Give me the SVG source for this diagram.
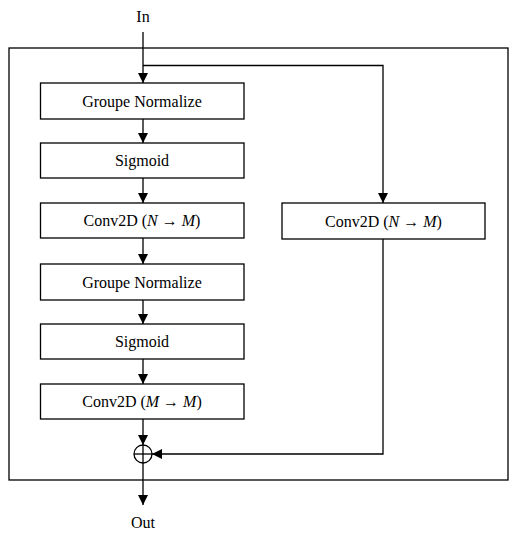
<svg xmlns="http://www.w3.org/2000/svg" width="523" height="537" viewBox="0 0 523 537">
<style>
.box{fill:#fff;stroke:#000;stroke-width:1.3}
text{font-family:'Liberation Serif','Times New Roman','DejaVu Serif',serif;font-size:16px;fill:#000;text-anchor:middle}
.m{font-style:italic}
.ln{fill:none;stroke:#000;stroke-width:1.3}
</style>
<defs>
<marker id="ah" markerWidth="10" markerHeight="10" viewBox="0 0 10 10" refX="10" refY="5" orient="auto" markerUnits="userSpaceOnUse">
<path d="M0,0 L10,5 L0,10 Z" fill="#000"/>
</marker>
</defs>
<rect id="frame" x="9" y="48" width="499" height="432" fill="none" stroke="#000" stroke-width="1.3"/>
<g id="connectors">
<line class="ln" x1="143" y1="32" x2="143" y2="83" marker-end="url(#ah)"/>
<polyline class="ln" points="143,65.5 383,65.5 383,203" marker-end="url(#ah)"/>
<line class="ln" x1="143" y1="119" x2="143" y2="143" marker-end="url(#ah)"/>
<line class="ln" x1="143" y1="178" x2="143" y2="203" marker-end="url(#ah)"/>
<line class="ln" x1="143" y1="238" x2="143" y2="264" marker-end="url(#ah)"/>
<line class="ln" x1="143" y1="300" x2="143" y2="324" marker-end="url(#ah)"/>
<line class="ln" x1="143" y1="359" x2="143" y2="384" marker-end="url(#ah)"/>
<line class="ln" x1="143" y1="419" x2="143" y2="445" marker-end="url(#ah)"/>
<polyline class="ln" points="383,239 383,454 152,454" marker-end="url(#ah)"/>
<line class="ln" x1="143" y1="463" x2="143" y2="505" marker-end="url(#ah)"/>
</g>
<text x="143" y="22">In</text>
<text x="143" y="528">Out</text>
<g id="gn1"><rect class="box" x="40.5" y="83" width="203.5" height="36"/><text x="142" y="106.5">Groupe Normalize</text></g>
<g id="sig1"><rect class="box" x="40.5" y="143" width="203.5" height="35"/><text x="142" y="166">Sigmoid</text></g>
<g id="conv1"><rect class="box" x="40.5" y="203" width="203.5" height="35"/><text x="142" y="226">Conv2D (<tspan class="m">N</tspan> → <tspan class="m">M</tspan>)</text></g>
<g id="gn2"><rect class="box" x="40.5" y="264" width="203.5" height="36"/><text x="142" y="287.5">Groupe Normalize</text></g>
<g id="sig2"><rect class="box" x="40.5" y="324" width="203.5" height="35"/><text x="142" y="347">Sigmoid</text></g>
<g id="conv3"><rect class="box" x="40.5" y="384" width="203.5" height="35"/><text x="142" y="407">Conv2D (<tspan class="m">M</tspan> → <tspan class="m">M</tspan>)</text></g>
<g id="conv2"><rect class="box" x="282" y="203" width="203" height="36"/><text x="383.5" y="226.5">Conv2D (<tspan class="m">N</tspan> → <tspan class="m">M</tspan>)</text></g>
<g id="sum"><circle cx="143" cy="454" r="9" fill="none" stroke="#000" stroke-width="1.3"/><line class="ln" x1="134" y1="454" x2="152" y2="454"/><line class="ln" x1="143" y1="445" x2="143" y2="463"/></g>
</svg>
